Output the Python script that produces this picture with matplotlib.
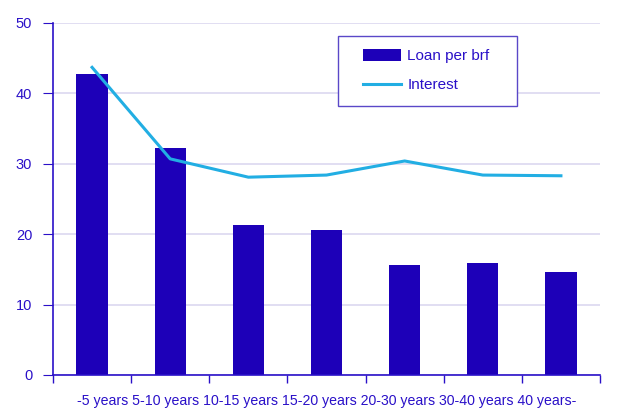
import numpy as np
import matplotlib
matplotlib.use("Agg")
import matplotlib.pyplot as plt
from matplotlib.patches import Rectangle

plt.rcParams["font.family"] = ["Liberation Sans", "DejaVu Sans"]

categories = ["-5 years", "5-10 years", "10-15 years", "15-20 years",
              "20-30 years", "30-40 years", "40 years-"]
loan = [42.8, 32.2, 21.3, 20.6, 15.6, 15.9, 14.6]
interest = [4.37, 3.07, 2.81, 2.84, 3.04, 2.84, 2.83]

bar_color = "#1d00b8"
line_color = "#22aee3"
text_color = "#2a10c8"
grid_color = "#dcd8f0"

W, H = 620, 408
fig = plt.figure(figsize=(6.2, 4.08), dpi=100)
ax = fig.add_axes([53 / W, 33 / H, 547 / W, 352 / H])
x = np.arange(len(categories))

ax.bar(x, loan, width=0.4, color=bar_color, label="Loan per brf", zorder=2)
ax.set_xlim(-0.5, len(categories) - 0.5)
ax.set_ylim(0, 50)
ax.set_yticks(np.arange(0, 51, 10))
ax.yaxis.grid(True, color=grid_color, linewidth=1.2, zorder=0)
ax.set_axisbelow(True)

# tick marks between categories; the category names run as one line under the axis
ax.set_xticks(np.arange(len(categories) + 1) - 0.5)
ax.set_xticklabels([])
ax.set_xlabel(" ".join(categories), fontsize=10.2, color=text_color)
ax.xaxis.set_label_coords(0.5, -(405 - 375) / 352)
ax.xaxis.label.set_verticalalignment("baseline")
ax.tick_params(axis="x", length=6, direction="out", color=text_color, width=1)
ax.tick_params(axis="y", length=7, color=text_color, labelsize=10.5, labelcolor=text_color, pad=8)

for side in ["top", "right"]:
    ax.spines[side].set_visible(False)
for side in ["left", "bottom"]:
    ax.spines[side].set_color(text_color)
    ax.spines[side].set_linewidth(1.2)

ax2 = ax.twinx()
ax2.plot(x, interest, color=line_color, linewidth=2.2, label="Interest", zorder=3)
ax2.set_ylim(0, 5)
ax2.set_yticks(np.arange(0, 6, 1))
ax2.tick_params(axis="y", length=0, pad=14, labelsize=10.5, labelcolor=text_color)
for side in ax2.spines:
    ax2.spines[side].set_visible(False)

# legend box
frame = Rectangle((338 / W, (H - 106) / H), 179 / W, 70 / H, transform=fig.transFigure,
                  facecolor="white", edgecolor="#5a48c8", linewidth=1.0, zorder=5)
ax2.add_patch(frame)
frame.set_clip_on(False)

h1, l1 = ax.get_legend_handles_labels()
h2, l2 = ax2.get_legend_handles_labels()
leg = ax2.legend(h1 + h2, l1 + l2, loc="upper left",
                 bbox_to_anchor=(363 / W, (H - 49) / H), bbox_transform=fig.transFigure,
                 frameon=False, fontsize=11, labelspacing=0.97, handlelength=2.5,
                 handleheight=0.8, handletextpad=0.4, borderpad=0, borderaxespad=0)
leg.set_zorder(6)
for t in leg.get_texts():
    t.set_color(text_color)

fig.savefig("out.png", dpi=100)
